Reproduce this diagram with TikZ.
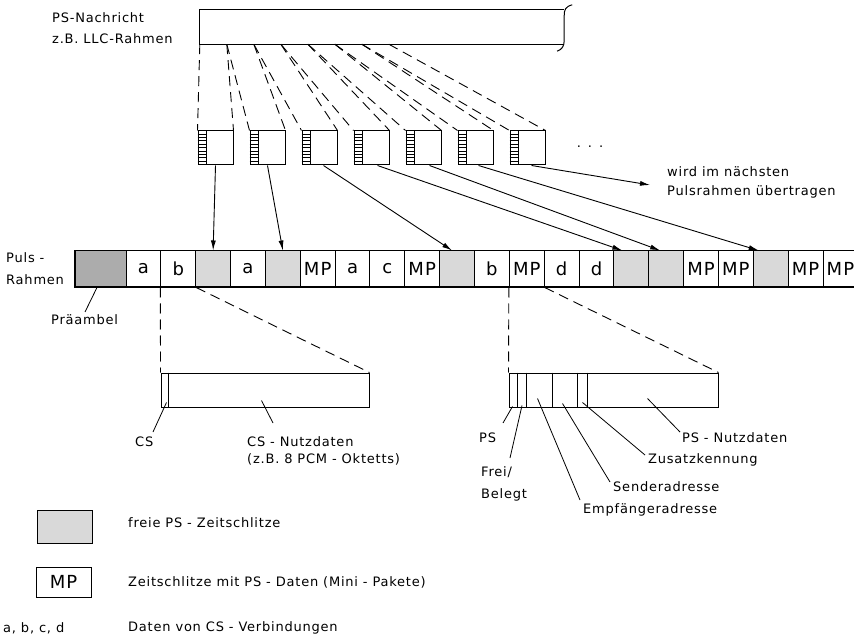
\documentclass[tikz,border=0pt]{standalone}
\usepackage{fontspec}
\setmainfont{DejaVu Sans}[LetterSpace=6]
\usetikzlibrary{arrows.meta,calc}
\begin{document}
\begin{tikzpicture}[x=1pt,y=-1pt,
  font=\fontsize{13}{15}\selectfont,
  cell/.style={draw,line width=1pt,minimum width=34.85pt,minimum height=36pt,inner sep=0pt,font=\fontsize{18}{18}\selectfont},
  free/.style={cell,fill=gray!30},
  prebox/.style={cell,fill=gray!65,minimum width=51pt},
  pkt/.style={draw,line width=1pt,minimum width=35pt,minimum height=34pt,inner sep=0pt},
  dsh/.style={dash pattern=on 10pt off 6pt,line width=0.9pt},
  arr/.style={-{Latex[length=10pt,width=5pt]},line width=0.9pt},
  lbl/.style={inner sep=0pt,anchor=west},
  ptr/.style={line width=0.8pt}]
\useasboundingbox (0,0) rectangle (854,636);

% message
\node[minimum width=364pt,minimum height=34pt,inner sep=0pt] (msg) at (382,27) {};
\draw[line width=1.1pt] (msg.north east) -- (msg.north west) -- (msg.south west) -- (msg.south east);
\draw[line width=1pt] ($(msg.north east)+(8,-5)$) .. controls ($(msg.north east)+(1,-3)$) and ($(msg.north east)+(0,0)$) .. ($(msg.north east)+(0,6)$)
  -- ($(msg.south east)+(0,-4)$) .. controls ($(msg.south east)+(0,2)$) and ($(msg.south east)+(-2,5)$) .. ($(msg.south east)+(-7,7)$);
\node[lbl,align=left,font=\fontsize{13}{21}\selectfont] (lmsg) at (52,28.5) {PS-Nachricht\\z.B. LLC-Rahmen};

% boundary points on message
\foreach \i in {0,...,7} \coordinate (b\i) at ($(msg.south west)+(27*\i,0)$);

% packets
\foreach \i in {0,...,6} {
  \node[pkt] (p\i) at ({198+52*\i+17.5},148) {};
  \draw[line width=0.9pt] ($(p\i.north west)+(9,0)$) -- ($(p\i.south west)+(9,0)$);
  \foreach \j in {1,...,9} \draw[line width=0.5pt] ($(p\i.north west)+(0,3.4*\j)$) -- ++(9,0);
}
\foreach \i [evaluate=\i as \n using int(\i+1)] in {0,...,6} {
  \draw[dsh] (b\i) -- (p\i.north west);
  \draw[dsh] (b\n) -- (p\i.north east);
}
\node (dots) at (590,147) {.\hspace{7pt}.\hspace{7pt}.};
\node[lbl,align=left,font=\fontsize{13}{19}\selectfont] (lnext) at (667,182.5) {wird im nächsten\\Pulsrahmen übertragen};
\coordinate (nxt) at (650,185);

% pulse frame
\node[prebox] (pra) at (100.5,269) {};
\foreach \t/\s [count=\k from 0] in {a/cell,b/cell,{}/free,a/cell,{}/free,MP/cell,a/cell,c/cell,MP/cell,{}/free,b/cell,MP/cell,d/cell,d/cell,{}/free,{}/free,MP/cell,MP/cell,{}/free,MP/cell,MP/cell}
  \node[\s] (c\k) at ({126+34.85*\k+17.425},269) {\t};
\draw[line width=1.7pt] ($(c20.north east)+(5,0)$) -- (pra.north west) -- (pra.south west) -- ($(c20.south east)+(5,0)$);
\node[lbl,align=left,font=\fontsize{13}{22}\selectfont] (lpuls) at (6,269) {Puls -\\Rahmen};
\node[lbl] (lpra) at (51,320) {Präambel};
\draw[ptr] ([xshift=34pt,yshift=8pt]lpra.west) -- ([xshift=-3.5pt]pra.south);

% arrows packets -> frame
\draw[arr] (p0.south) -- (c2.north);
\draw[arr] (p1.south) -- (c4.north);
\draw[arr] ([xshift=4pt]p2.south) -- ([xshift=-5pt]c9.north);
\draw[arr] ([xshift=6pt]p3.south) -- ([xshift=-9pt]c14.north);
\draw[arr] ([xshift=6pt]p4.south) -- ([xshift=-6pt]c15.north);
\draw[arr] ([xshift=3pt]p5.south) -- ([xshift=-12pt]c18.north);
\draw[arr] ([xshift=4pt]p6.south) -- (nxt);

% CS detail
\node[draw,line width=1pt,minimum width=208pt,minimum height=34pt,inner sep=0pt] (csbox) at (265,390) {};
\draw[line width=0.9pt] ($(csbox.north west)+(8,0)$) -- ($(csbox.south west)+(8,0)$);
\draw[dsh] (c1.south west) -- (csbox.north west);
\draw[dsh] (c1.south east) -- (csbox.north east);
\node[lbl] (lcs) at (135,442) {CS};
\draw[ptr] ([xshift=18pt,yshift=10pt]lcs.west) -- ($(csbox.south west)+(6,-5)$);
\node[lbl] (lcsn) at (247,442) {CS - Nutzdaten};
\node[lbl] (lcsn2) at (247,459) {(z.B. 8 PCM - Oktetts)};
\draw[ptr] ([xshift=26pt,yshift=19pt]lcsn.west) -- ($(csbox.south west)+(101,-7)$);

% PS detail
\node[draw,line width=1pt,minimum width=209pt,minimum height=34pt,inner sep=0pt] (psbox) at (613.5,390) {};
\foreach \d in {9,18,44,69,79}
  \draw[line width=0.9pt] ($(psbox.north west)+(\d,0)$) -- ($(psbox.south west)+(\d,0)$);
\draw[dsh] (c11.south west) -- (psbox.north west);
\draw[dsh] (c11.south east) -- (psbox.north east);
\node[lbl] (lps) at (479,438) {PS};
\draw[ptr] ([xshift=24pt,yshift=15pt]lps.west) -- ($(psbox.south west)+(4,-1)$);
\node[lbl,align=left,font=\fontsize{13}{22}\selectfont] (lfrei) at (481,484) {Frei/\\Belegt};
\draw[ptr] ([xshift=29pt,yshift=26pt]lfrei.west) -- ($(psbox.south west)+(13.5,-2)$);
\node[lbl] (lemp) at (583,510) {Empfängeradresse};
\draw[ptr] ([xshift=-3pt,yshift=10pt]lemp.west) -- ($(psbox.south west)+(29,-9)$);
\node[lbl] (lsen) at (613,487) {Senderadresse};
\draw[ptr] ([xshift=-3pt,yshift=5pt]lsen.west) -- ($(psbox.south west)+(54,-4)$);
\node[lbl] (lzus) at (648,460) {Zusatzkennung};
\draw[ptr] ([xshift=-3pt,yshift=5pt]lzus.west) -- ($(psbox.south west)+(74,-5)$);
\node[lbl] (lpsn) at (682,438) {PS - Nutzdaten};
\draw[ptr] ([xshift=-2pt,yshift=6pt]lpsn.west) -- ($(psbox.south west)+(139,-9)$);

% legend
\node[draw,line width=1pt,fill=gray!30,minimum width=55pt,minimum height=33pt,inner sep=0pt] (lg1) at (64.5,526.5) {};
\node[lbl] (lt1) at (128,523) {freie PS - Zeitschlitze};
\node[draw,line width=1pt,minimum width=55pt,minimum height=30pt,inner sep=0pt,font=\fontsize{18}{18}\selectfont] (lg2) at (63.5,582) {MP};
\node[lbl] (lt2) at (128,582) {Zeitschlitze mit PS - Daten (Mini - Pakete)};
\node[lbl] (lg3) at (3,628) {a, b, c, d};
\node[lbl] (lt3) at (128,628) {Daten von CS - Verbindungen};
\end{tikzpicture}
\end{document}
